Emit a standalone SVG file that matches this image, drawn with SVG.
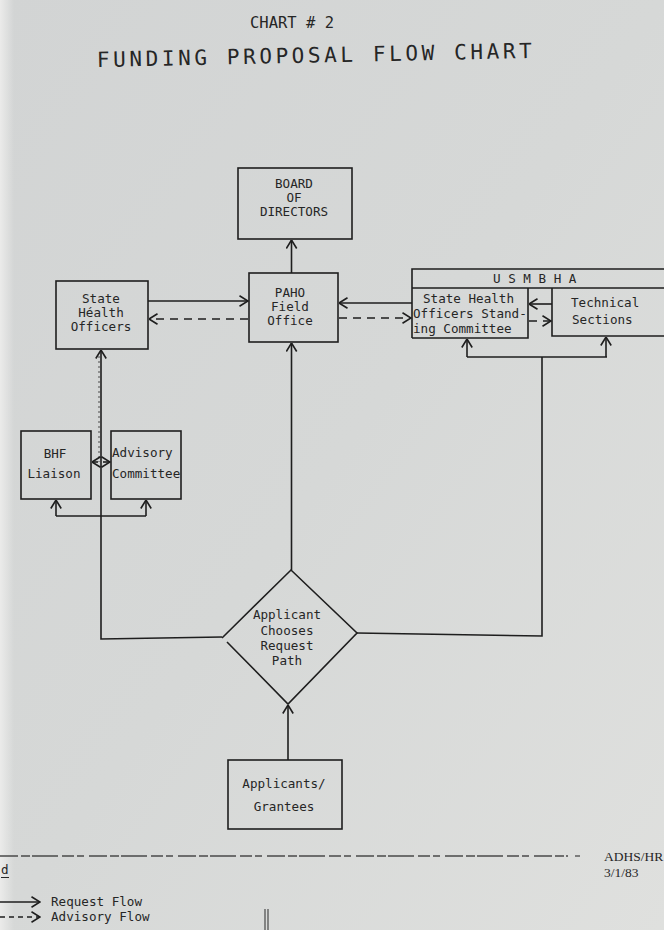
<svg xmlns="http://www.w3.org/2000/svg" width="664" height="930" viewBox="0 0 664 930">
<defs>
<linearGradient id="paper" x1="0" y1="0" x2="1" y2="1">
<stop offset="0" stop-color="#d2d4d4"/>
<stop offset="0.5" stop-color="#d6d8d7"/>
<stop offset="1" stop-color="#dfe0de"/>
</linearGradient>
<linearGradient id="edge" x1="0" y1="0" x2="1" y2="0">
<stop offset="0" stop-color="#ebebea"/>
<stop offset="1" stop-color="#ebebea" stop-opacity="0"/>
</linearGradient>
<marker id="arr" viewBox="0 0 10 12" refX="9.5" refY="6" markerWidth="10" markerHeight="12" markerUnits="userSpaceOnUse" orient="auto">
<path d="M1,0.8 L9.5,6 L1,11.2" fill="none" stroke="#1e1e1e" stroke-width="1.6"/>
</marker>
</defs>
<style>
.bx{fill:none;stroke:#1e1e1e;stroke-width:1.6}
.ln{fill:none;stroke:#1e1e1e;stroke-width:1.6}
.ds{fill:none;stroke:#1e1e1e;stroke-width:1.6;stroke-dasharray:8 6}
.t{font-family:"DejaVu Sans Mono","Liberation Mono",monospace;font-size:12.6px;fill:#262626}
.m{text-anchor:middle}
.sf{font-family:"Liberation Serif","DejaVu Serif",serif;font-size:13.5px;fill:#262626}
</style>
<rect x="0" y="0" width="664" height="930" fill="url(#paper)"/>
<rect x="0" y="0" width="14" height="930" fill="url(#edge)"/>

<g id="title">
<text class="t" x="250" y="28" style="font-size:15.5px">CHART # 2</text>
<text class="t" x="97" y="67" transform="rotate(-1.2 97 67)" style="font-size:21px;letter-spacing:3.6px">FUNDING PROPOSAL FLOW CHART</text>
</g>

<g id="board">
<rect class="bx" x="238" y="168" width="114" height="71"/>
<text class="t m" x="294" y="188">BOARD</text>
<text class="t m" x="294" y="202">OF</text>
<text class="t m" x="294" y="216">DIRECTORS</text>
</g>

<g id="paho">
<rect class="bx" x="249" y="273" width="89" height="69"/>
<text class="t m" x="290" y="297">PAHO</text>
<text class="t m" x="290" y="311">Field</text>
<text class="t m" x="290" y="325">Office</text>
</g>

<g id="sho">
<rect class="bx" x="56" y="281" width="92" height="68"/>
<text class="t m" x="101" y="303">State</text>
<text class="t m" x="101" y="317">Héalth</text>
<text class="t m" x="101" y="331">Officers</text>
</g>

<g id="usmbha">
<path class="bx" d="M412,338 V269 H664 M412,288 H664"/>
<text class="t" x="493" y="283">U S M B H A</text>
</g>

<g id="shosc">
<path class="bx" d="M412,338 H528 V288"/>
<text class="t" x="423" y="303">State Health</text>
<text class="t" x="413" y="318">Officers Stand-</text>
<text class="t" x="413" y="333">ing Committee</text>
</g>

<g id="technical">
<path class="bx" d="M552,288 V336 H664"/>
<text class="t" x="571" y="307">Technical</text>
<text class="t" x="572" y="324">Sections</text>
</g>

<g id="bhf">
<rect class="bx" x="21" y="431" width="70" height="68"/>
<text class="t m" x="55" y="458">BHF</text>
<text class="t m" x="54" y="478">Liaison</text>
</g>

<g id="advisory">
<rect class="bx" x="111" y="431" width="70" height="68"/>
<text class="t" x="112" y="457">Advisory</text>
<text class="t" x="112" y="478">Committee</text>
</g>

<g id="decision">
<path class="bx" d="M222,638 L291,570 L357,633 L288,704 L227,642"/>
<text class="t m" x="287" y="619">Applicant</text>
<text class="t m" x="287" y="635">Chooses</text>
<text class="t m" x="287" y="650">Request</text>
<text class="t m" x="287" y="665">Path</text>
</g>

<g id="applicants">
<rect class="bx" x="228" y="760" width="114" height="69"/>
<text class="t m" x="284" y="788">Applicants/</text>
<text class="t m" x="284" y="811">Grantees</text>
</g>

<g id="connectors">
<path class="ln" d="M291.5,273 V240" marker-end="url(#arr)"/>
<path class="ln" d="M291.5,570 V343" marker-end="url(#arr)"/>
<path class="ln" d="M288,760 V705" marker-end="url(#arr)"/>
<path class="ln" d="M148,301 H248" marker-end="url(#arr)"/>
<path class="ds" d="M248,319 H149" marker-end="url(#arr)"/>
<path class="ln" d="M412,303 H339" marker-end="url(#arr)"/>
<path class="ds" d="M339,318 H411" marker-end="url(#arr)"/>
<path class="ln" d="M552,304 H529" marker-end="url(#arr)"/>
<path class="ds" d="M529,321 H551" stroke-dasharray="5 4" marker-end="url(#arr)"/>
<path class="ln" d="M222,637 L101,639 V350" marker-end="url(#arr)"/>
<path class="ln" d="M56,516 H146"/>
<path class="ln" d="M56,516 V500" marker-end="url(#arr)"/>
<path class="ln" d="M146,516 V500" marker-end="url(#arr)"/>
<path d="M99,356 V462" fill="none" stroke="#3a3a3a" stroke-width="0.9" stroke-dasharray="2 3"/>
<path class="ds" d="M98,462 H92" stroke-width="1.3" stroke-dasharray="3 2" marker-end="url(#arr)"/>
<path class="ds" d="M103,462 H110" stroke-width="1.3" stroke-dasharray="3 2" marker-end="url(#arr)"/>
<path class="ln" d="M357,633 L542,636 V357"/>
<path class="ln" d="M467,357 H607"/>
<path class="ln" d="M467,357 V339" marker-end="url(#arr)"/>
<path class="ln" d="M606,357 V337" marker-end="url(#arr)"/>
</g>

<g id="footer">
<path d="M0,856 H568" fill="none" stroke="#4a4a4a" stroke-width="1.3" stroke-dasharray="18 3 9 2 26 4 12 3 7 5"/>
<path d="M575,856 H580" fill="none" stroke="#4a4a4a" stroke-width="1.3"/>
<text class="sf" x="604" y="861">ADHS/HR</text>
<text class="sf" x="604" y="877">3/1/83</text>
<text class="t" x="1" y="874">d</text>
<path d="M1,877.5 H9" stroke="#262626" stroke-width="1"/>
<path class="ln" d="M0,902 H40" stroke-width="1.3" marker-end="url(#arr)"/>
<path class="ln" d="M0,917 H40" stroke-width="1.3" stroke-dasharray="5 4" marker-end="url(#arr)"/>
<text class="t" x="51" y="906">Request Flow</text>
<text class="t" x="51" y="921">Advisory Flow</text>
<path d="M265,909 V930 M268,909 V930" stroke="#4a4a4a" stroke-width="1.2"/>
</g>
</svg>
